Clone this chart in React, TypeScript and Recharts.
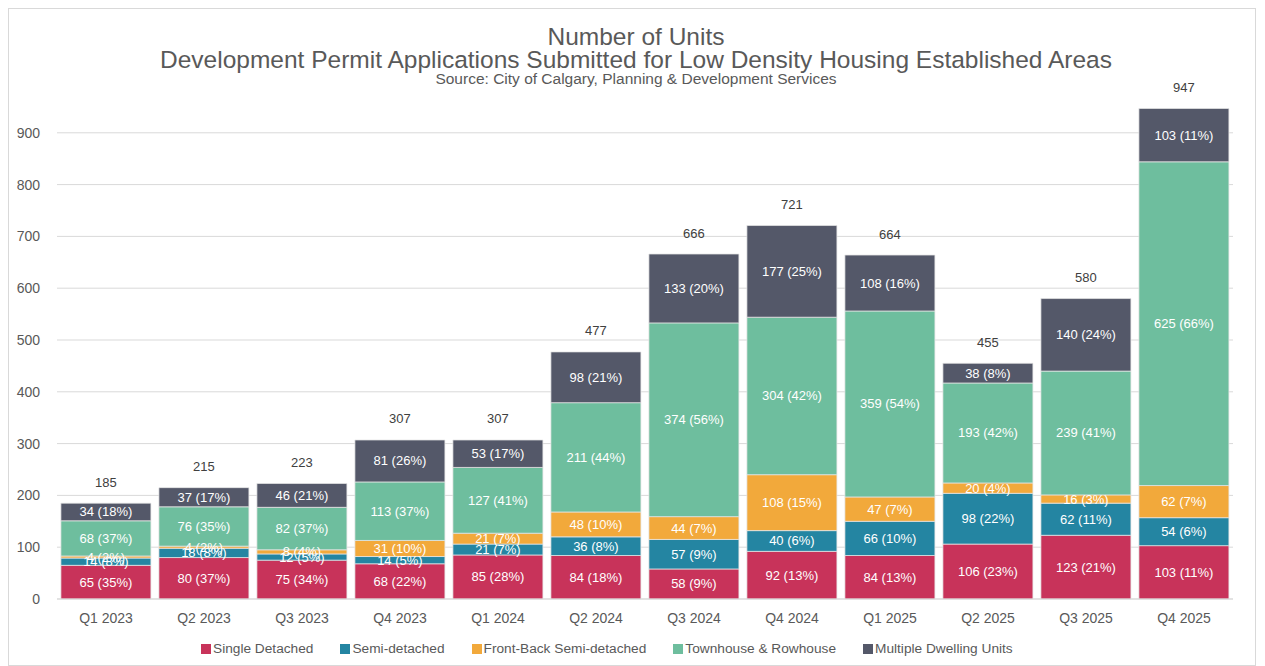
import React from 'react';
import { BarChart, Bar, XAxis, YAxis, CartesianGrid, LabelList } from 'recharts';

const quarters = ['Q1 2023', 'Q2 2023', 'Q3 2023', 'Q4 2023', 'Q1 2024', 'Q2 2024', 'Q3 2024', 'Q4 2024', 'Q1 2025', 'Q2 2025', 'Q3 2025', 'Q4 2025'];
const singleDetached = [65, 80, 75, 68, 85, 84, 58, 92, 84, 106, 123, 103];
const semiDetached = [14, 18, 12, 14, 21, 36, 57, 40, 66, 98, 62, 54];
const frontBack = [4, 4, 8, 31, 21, 48, 44, 108, 47, 20, 16, 62];
const townhouse = [68, 76, 82, 113, 127, 211, 374, 304, 359, 193, 239, 625];
const multiDwelling = [34, 37, 46, 81, 53, 98, 133, 177, 108, 38, 140, 103];
const yTicks = [0, 100, 200, 300, 400, 500, 600, 700, 800, 900];

const series = [
  { key: 'sd', name: 'Single Detached', color: '#C8335A', values: singleDetached },
  { key: 'semi', name: 'Semi-detached', color: '#2485A2', values: semiDetached },
  { key: 'fb', name: 'Front-Back Semi-detached', color: '#F2A93B', values: frontBack },
  { key: 'th', name: 'Townhouse & Rowhouse', color: '#6EBE9E', values: townhouse },
  { key: 'mdu', name: 'Multiple Dwelling Units', color: '#545869', values: multiDwelling },
];

const data = quarters.map((q, i) => {
  const row: any = { quarter: q };
  let total = 0;
  series.forEach((s) => {
    row[s.key] = s.values[i];
    total += s.values[i];
  });
  row.total = total;
  return row;
});

const FONT = '"Liberation Sans", Arial, sans-serif';

function segmentLabel(props: any) {
  const { x, y, width, height, value, index } = props;
  const pct = Math.round((value / data[index].total) * 100);
  return (
    <text
      x={x + width / 2}
      y={y + height / 2}
      fill="#fff"
      fontSize={13}
      fontFamily={FONT}
      textAnchor="middle"
      dominantBaseline="central"
    >
      {`${value} (${pct}%)`}
    </text>
  );
}

function totalLabel(props: any) {
  const { x, y, width, index } = props;
  return (
    <text x={x + width / 2} y={y - 21} fill="#404040" fontSize={13} fontFamily={FONT} textAnchor="middle" dominantBaseline="central">
      {data[index].total}
    </text>
  );
}

export default function App() {
  return (
    <div style={{ position: 'relative', width: 1248, height: 658, border: '1px solid #d9d9d9', boxSizing: 'border-box', background: '#fff', fontFamily: FONT }}>
      <div style={{ position: 'absolute', top: 17, left: 4, width: '100%', textAlign: 'center', color: '#595959' }}>
        <div style={{ fontSize: 24.5, lineHeight: '22px' }}>Number of Units</div>
        <div style={{ fontSize: 24.5, lineHeight: '23px' }}>Development Permit Applications Submitted for Low Density Housing Established Areas</div>
        <div style={{ fontSize: 15.5, lineHeight: '16px' }}>Source: City of Calgary, Planning &amp; Development Services</div>
      </div>
      <div style={{ position: 'absolute', top: 0, left: 0 }}>
        <BarChart width={1246} height={656} data={data} margin={{ top: 72, right: 22, bottom: 36, left: 0 }} barCategoryGap="4%">
          <CartesianGrid vertical={false} stroke="#d9d9d9" horizontalValues={yTicks} />
          <XAxis
            dataKey="quarter"
            height={30}
            tickLine={false}
            axisLine={{ stroke: '#d9d9d9' }}
            tick={{ fill: '#595959', fontSize: 14, fontFamily: FONT }}
            tickMargin={8}
          />
          <YAxis
            width={48}
            domain={[0, 1000]}
            ticks={yTicks}
            axisLine={false}
            tickLine={false}
            tickSize={0}
            tickMargin={17}
            tick={{ fill: '#595959', fontSize: 14, fontFamily: FONT }}
          />
          {series.map((s, i) => (
            <Bar key={s.key} dataKey={s.key} name={s.name} stackId="a" fill={s.color} stroke="#e6e6e6" strokeWidth={0.75} isAnimationActive={false}>
              <LabelList dataKey={s.key} content={segmentLabel} />
              {i === series.length - 1 && <LabelList dataKey={s.key} content={totalLabel} />}
            </Bar>
          ))}
        </BarChart>
      </div>
      <div style={{ position: 'absolute', top: 632, left: 192, display: 'flex', gap: 27, fontSize: 13.7, color: '#595959' }}>
        {series.map((s) => (
          <div key={s.key} style={{ display: 'flex', alignItems: 'center' }}>
            <span style={{ display: 'inline-block', width: 10, height: 10, background: s.color, marginRight: 2 }} />
            <span>{s.name}</span>
          </div>
        ))}
      </div>
    </div>
  );
}
